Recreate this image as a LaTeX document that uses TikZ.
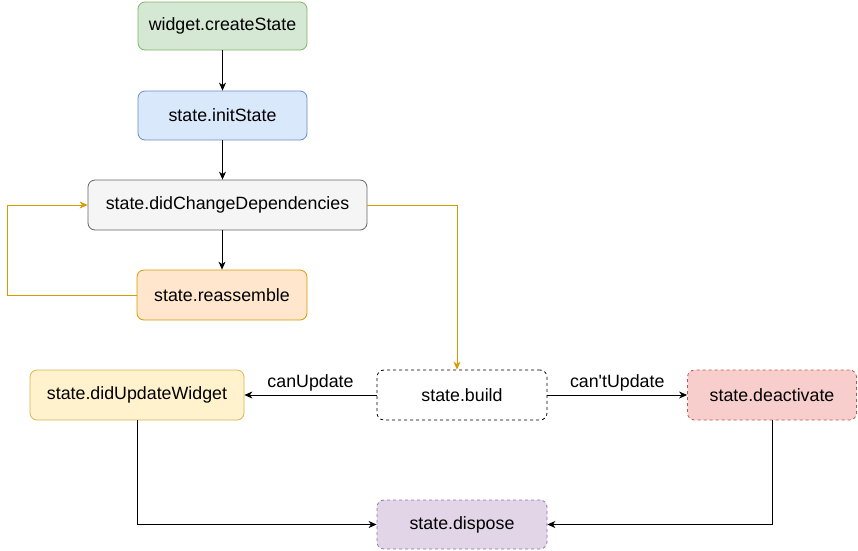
\documentclass[tikz,border=0pt]{standalone}
\usepackage{fontspec}
\setmainfont{Liberation Sans}
\usetikzlibrary{arrows.meta}
\definecolor{greenfill}{HTML}{D5E8D4}
\definecolor{greenline}{HTML}{82B366}
\definecolor{bluefill}{HTML}{DAE8FC}
\definecolor{blueline}{HTML}{6C8EBF}
\definecolor{greyfill}{HTML}{F5F5F5}
\definecolor{greyline}{HTML}{666666}
\definecolor{orangefill}{HTML}{FFE6CC}
\definecolor{orangeline}{HTML}{D79B00}
\definecolor{yellowfill}{HTML}{FFF2CC}
\definecolor{yellowline}{HTML}{D6B656}
\definecolor{redfill}{HTML}{F8CECC}
\definecolor{redline}{HTML}{B85450}
\definecolor{purplefill}{HTML}{E1D5E7}
\definecolor{purpleline}{HTML}{9673A6}
\begin{document}
\begin{tikzpicture}[>={Stealth[length=8pt, width=7pt, inset=2.5pt]}, x=1pt, y=-1pt,
box/.style={draw, rounded corners=7pt, line width=0.8pt, inner sep=0,
  minimum height=50pt, font=\fontsize{17.8}{20}\selectfont},
call/.style={->, line width=0.8pt},
loopback/.style={->, line width=0.8pt, orangeline},
label/.style={font=\fontsize{17.8}{20}\selectfont, inner sep=3pt}]
\useasboundingbox (0,0) rectangle (858,550); %%%%%%% SIZE
%%%%%%%%%%%%%%%%%%%%%%% NODES %%%%%%%%%%%%%%%%%%%%%%%%%%%
\node[box, fill=greenfill, draw=greenline, minimum width=169pt, minimum height=48pt] (createState) at (222.5,26) {widget.createState};
\node[box, fill=bluefill, draw=blueline, minimum width=169pt, minimum height=49pt] (initState) at (222.5,115.5) {state.initState};
\node[box, fill=greyfill, draw=greyline, minimum width=279pt] (didChange) at (227.5,205) {state.didChangeDependencies};
\node[box, fill=orangefill, draw=orangeline, minimum width=170pt] (reassemble) at (222,295) {state.reassemble};
\node[box, fill=yellowfill, draw=yellowline, minimum width=214pt] (didUpdate) at (137,395) {state.didUpdateWidget};
\node[box, fill=white, draw=black, dashed, minimum width=170pt] (build) at (462,395) {state.build};
\node[box, fill=redfill, draw=redline, dashed, minimum width=169pt] (deactivate) at (772,395) {state.deactivate};
\node[box, fill=purplefill, draw=purpleline, dashed, minimum width=170pt, minimum height=49pt] (dispose) at (462,524.5) {state.dispose};
%%%%%%%%%%%%%%%%%%%%%%% EDGES %%%%%%%%%%%%%%%%%%%%%%%%%%%
\coordinate (loopCorner) at (7,295);
\draw[call] (createState) -- (initState);
\draw[call] (initState.south) -- (initState.south |- didChange.north);
\draw[call] (didChange.south -| reassemble) -- (reassemble.north);
\draw[loopback] (reassemble.west) -- (loopCorner) |- (didChange.west);
\draw[loopback] (didChange.east) -| ([xshift=-5pt]build.north);
\draw[call] (build) -- (didUpdate) node[label, above, midway]{canUpdate};
\draw[call] (build) -- (deactivate) node[label, above, midway]{can\textquotesingle tUpdate};
\draw[call] (didUpdate.south) |- (dispose.west);
\draw[call] (deactivate.south) |- (dispose.east);
\end{tikzpicture}
\end{document}
